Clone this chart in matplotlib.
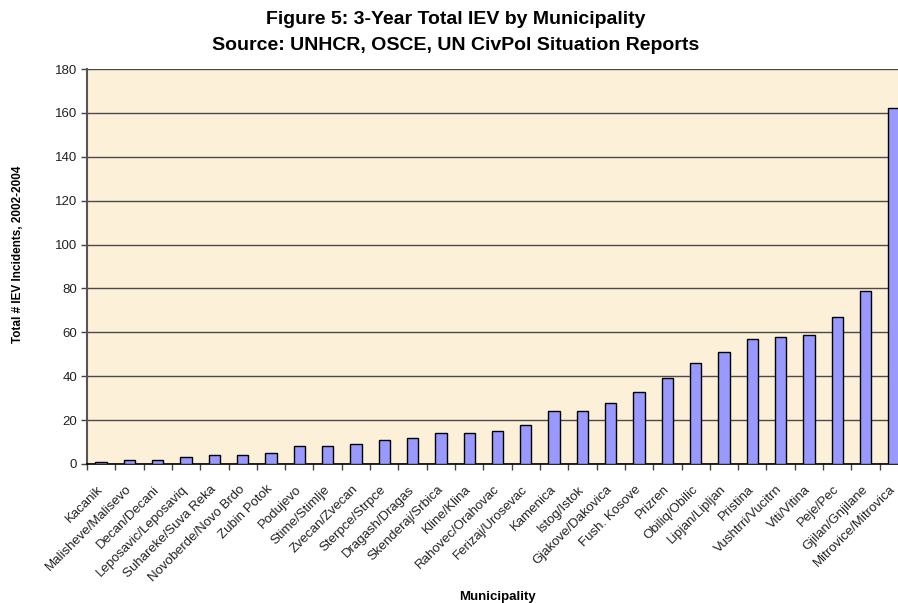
import matplotlib
matplotlib.use("Agg")
import matplotlib.pyplot as plt
import numpy as np

municipalities = [
    "Kacanik", "Malisheve/Malisevo", "Decan/Decani", "Leposavic/Leposaviq",
    "Suhareke/Suva Reka", "Novoberde/Novo Brdo", "Zubin Potok", "Podujevo",
    "Stime/Stimlje", "Zvecan/Zvecan", "Sterpce/Strpce", "Dragash/Dragas",
    "Skenderaj/Srbica", "Kline/Klina", "Rahovec/Orahovac", "Ferizaj/Urosevac",
    "Kamenica", "Istog/Istok", "Gjakove/Dakovica", "Fush. Kosove", "Prizren",
    "Obiliq/Obilic", "Lipjan/Lipljan", "Pristina", "Vushtrri/Vucitrn",
    "Viti/Vitina", "Peje/Pec", "Gjilan/Gnjilane", "Mitrovice/Mitrovica",
]
incidents = [1, 2, 2, 3, 4, 4, 5, 8, 8, 9, 11, 12, 14, 14, 15, 18,
             24, 24, 28, 33, 39, 46, 51, 57, 58, 59, 67, 79, 162]
y_ticks = list(range(0, 181, 20))

plt.rcParams["font.family"] = ["Liberation Sans", "DejaVu Sans"]

fig = plt.figure(figsize=(8.98, 6.03), dpi=100)
ax = fig.add_axes([87 / 898, 1 - 464 / 603, 821 / 898, 395 / 603])
ax.set_facecolor("#FCF0D8")

x = np.arange(len(municipalities))
ax.bar(x, incidents, width=0.4, color="#9999FF", edgecolor="black",
       linewidth=1.0, zorder=3)

ax.set_xlim(-0.5, len(municipalities) - 0.5)
ax.set_ylim(0, 180)
ax.set_yticks(y_ticks)
ax.set_yticklabels([str(v) for v in y_ticks], fontsize=9.5, color="#222222")
ax.yaxis.grid(True, color="#4a4a4a", linewidth=1.0, zorder=1)
ax.tick_params(axis="y", direction="out", length=4, width=1, color="#444444", pad=3)

# category labels at centres, tick marks at category boundaries
ax.set_xticks(x)
ax.set_xticklabels(municipalities, rotation=45, ha="right", va="center",
                   rotation_mode="anchor", fontsize=9.5, color="#222222")
ax.tick_params(axis="x", which="major", length=0, pad=17)
ax.set_xticks(np.arange(-0.5, len(municipalities), 1.0), minor=True)
ax.tick_params(axis="x", which="minor", direction="out", length=4, width=1,
               color="#444444")

for side in ("top", "right"):
    ax.spines[side].set_visible(False)
ax.spines["left"].set_color("#555555")
ax.spines["left"].set_linewidth(1.5)
ax.spines["bottom"].set_color("black")
ax.spines["bottom"].set_linewidth(1.2)

fig.text(456 / 898, 1 - 20 / 603, "Figure 5: 3-Year Total IEV by Municipality",
         ha="center", va="center", fontsize=14, fontweight="bold")
fig.text(456 / 898, 1 - 45 / 603, "Source: UNHCR, OSCE, UN CivPol Situation Reports",
         ha="center", va="center", fontsize=14, fontweight="bold")
fig.text(18 / 898, 1 - 254 / 603, "Total # IEV Incidents, 2002-2004",
         rotation=90, ha="center", va="center", fontsize=8.5, fontweight="bold")
fig.text(498 / 898, 1 - 597 / 603, "Municipality",
         ha="center", va="center", fontsize=9.5, fontweight="bold")

fig.savefig("out.png", dpi=100, facecolor="white")
